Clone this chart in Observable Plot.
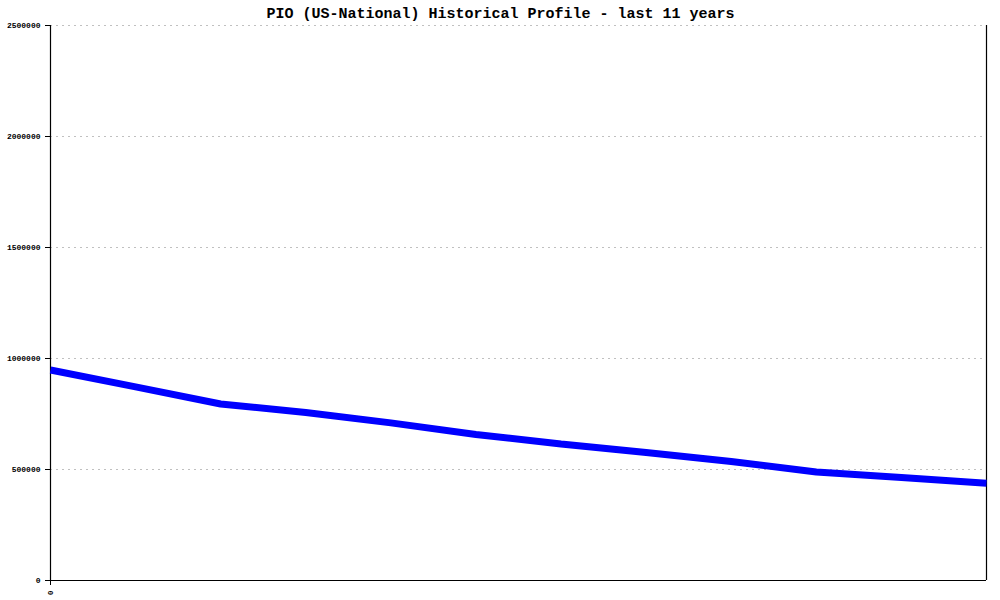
<!DOCTYPE html>
<html>
<head>
<meta charset="utf-8">
<script src="https://cdn.jsdelivr.net/npm/d3@7"></script>
<script src="https://cdn.jsdelivr.net/npm/@observablehq/plot@0.6"></script>
<style>
  html, body { margin: 0; padding: 0; background: #fff; }
</style>
</head>
<body>
<div id="chart"></div>
<script>
const titleText = "PIO (US-National) Historical Profile - last 11 years";
const yearIndex = [0, 1, 2, 3, 4, 5, 6, 7, 8, 9, 10, 11];
const values = [948000, 872000, 795000, 757000, 710000, 658000, 615000, 577000, 536000, 489000, 464000, 438000];
const yTicks = [0, 500000, 1000000, 1500000, 2000000, 2500000];
const xTicks = [0];

const data = yearIndex.map((x, i) => ({x, y: values[i]}));
const font = "'Liberation Mono', 'DejaVu Sans Mono', monospace";

const chart = Plot.plot({
  width: 1000,
  height: 600,
  marginLeft: 50,
  marginRight: 14,
  marginTop: 25,
  marginBottom: 20,
  style: {fontFamily: font, background: "#fff", color: "#000"},
  x: {domain: [0, 11], axis: null},
  y: {domain: [0, 2500000], axis: null},
  marks: [
    Plot.ruleY(yTicks.filter(d => d > 0), {stroke: "#c0c0c0", strokeDasharray: "2,4", strokeWidth: 1}),
    Plot.axisY({ticks: yTicks, tickFormat: d3.format("d"), tickSize: 5, tickPadding: 5, fontSize: 8, fontWeight: "bold", stroke: "#000", label: null}),
    Plot.axisX({ticks: xTicks, tickFormat: d => String(d), tickSize: 5, tickPadding: 5, tickRotate: -90, fontSize: 8, fontWeight: "bold", stroke: "#000", label: null}),
    Plot.ruleX([0, 11], {stroke: "#000", strokeWidth: 1.2}),
    Plot.ruleY([0], {stroke: "#000", strokeWidth: 1.2}),
    Plot.line(data, {x: "x", y: "y", stroke: "#0000ff", strokeWidth: 7, strokeLinejoin: "miter", strokeLinecap: "butt"}),
    Plot.text([titleText], {frameAnchor: "top", lineAnchor: "middle", dx: -18, dy: -12, fontSize: 15, fontWeight: "bold", fill: "#000", fontFamily: font})
  ]
});
document.getElementById("chart").appendChild(chart);
</script>
</body>
</html>
